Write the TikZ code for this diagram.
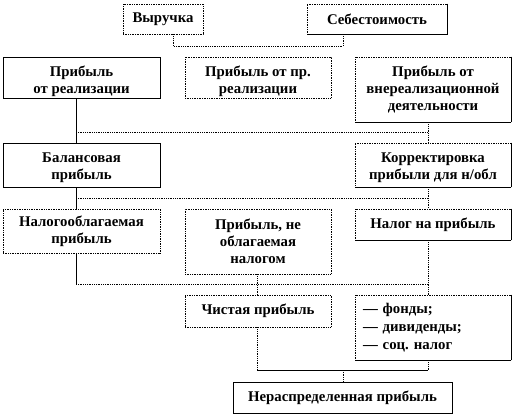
\documentclass[tikz,border=0pt]{standalone}
\usepackage{fontspec}
\setmainfont{Liberation Serif}
\frenchspacing
\begin{document}
\begin{tikzpicture}[x=1pt,y=-1pt,
  font=\fontsize{14.8}{17}\selectfont\bfseries,
  base/.style={inner sep=0pt, align=center, line width=0.7pt},
  solidbox/.style={base, draw},
  dotbox/.style={base, draw, densely dotted},
  mixbox/.style={base, draw, densely dotted,
    append after command={(\tikzlastnode.north east) edge[solid, line width=0.7pt] (\tikzlastnode.south east)
      (\tikzlastnode.south east) edge[solid, line width=0.7pt] (\tikzlastnode.south west)}},
  dotline/.style={densely dotted, line width=0.8pt},
  solline/.style={line width=0.7pt}]
\fill[white] (0,0) rectangle (516,417);
\useasboundingbox (0,0) rectangle (516,417);

\node[dotbox, minimum width=80, minimum height=30] (vyr) at (163,19) {Выручка};
\node[mixbox, minimum width=140, minimum height=30] (seb) at (377,19) {Себестоимость};

\node[solidbox, minimum width=157, minimum height=41] (pr1) at (81.5,77.5) {\rule{0pt}{18pt}Прибыль\\от реализации};
\node[dotbox, minimum width=146, minimum height=41] (pr2) at (258,77.5) {\rule{0pt}{18pt}Прибыль от пр.\\реализации};
\node[mixbox, minimum width=156, minimum height=65] (pr3) at (433,89.5) {Прибыль от\\внереализационной\\деятельности};

\node[solidbox, minimum width=157, minimum height=44] (bal) at (81.5,165) {\rule{0pt}{16pt}Балансовая\\прибыль};
\node[mixbox, minimum width=156, minimum height=44] (kor) at (433,165) {\rule{0pt}{16pt}Корректировка\\прибыли для н/обл};

\node[dotbox, minimum width=157, minimum height=44] (nal1) at (81.5,231) {Налогооблагаемая\\прибыль};
\node[dotbox, minimum width=146, minimum height=65] (neobl) at (258,241.5) {Прибыль, не\\облагаемая\\налогом};
\node[mixbox, minimum width=156, minimum height=31] (naln) at (433,224.5) {Налог на прибыль};

\node[dotbox, minimum width=146, minimum height=32] (chist) at (258,311) {Чистая прибыль};
\node[mixbox, minimum width=156, minimum height=65, align=left, text width=140,
  font=\fontsize{14.8}{18}\selectfont\bfseries] (fond) at (433,327.5) {— фонды;\\— дивиденды;\\— соц. налог};

\node[solidbox, minimum width=219, minimum height=31] (neras) at (342.5,397.5) {Нераспределенная прибыль};

% top connector
\coordinate (t1) at (173,46);
\coordinate (t2) at (343,46);
\draw[dotline] ([xshift=10]vyr.south) -- (t1) -- (t2) -- ([xshift=-34]seb.south);

% left column
\draw[solline] ([xshift=-5.5]pr1.south) -- ([xshift=-5.5]bal.north);
\draw[solline] ([xshift=-5.5]bal.south) -- ([xshift=-5.5]nal1.north);
\coordinate (l3) at (76,284);
\draw[solline] ([xshift=-5.5]nal1.south) -- (l3);

% right column
\draw[dotline] ([xshift=-5]pr3.south) -- ([xshift=-5]kor.north);
\draw[dotline] ([xshift=-5]kor.south) -- ([xshift=-5]naln.north);
\draw[dotline] ([xshift=-5]naln.south) -- ([xshift=-5]fond.north);
\coordinate (r4) at (428,370);
\draw[dotline] ([xshift=-5]fond.south) -- (r4);

% horizontals
\coordinate (h1L) at (76,132); \coordinate (h1R) at (428,132);
\coordinate (h2L) at (76,198); \coordinate (h2R) at (428,198);
\coordinate (h3R) at (428,284);
\draw[dotline] (h1L) -- (h1R);
\draw[dotline] (h2L) -- (h2R);
\draw[dotline] (l3) -- (h3R);

% middle
\draw[dotline] ([xshift=-1]neobl.south) -- ([xshift=-1]chist.north);
\coordinate (m4) at (257,370);
\draw[dotline] ([xshift=-1]chist.south) -- (m4);
\draw[solline] (m4) -- (r4);
\coordinate (n4) at (343,370);
\draw[dotline] (n4) -- (neras.north -| n4);
\end{tikzpicture}
\end{document}
